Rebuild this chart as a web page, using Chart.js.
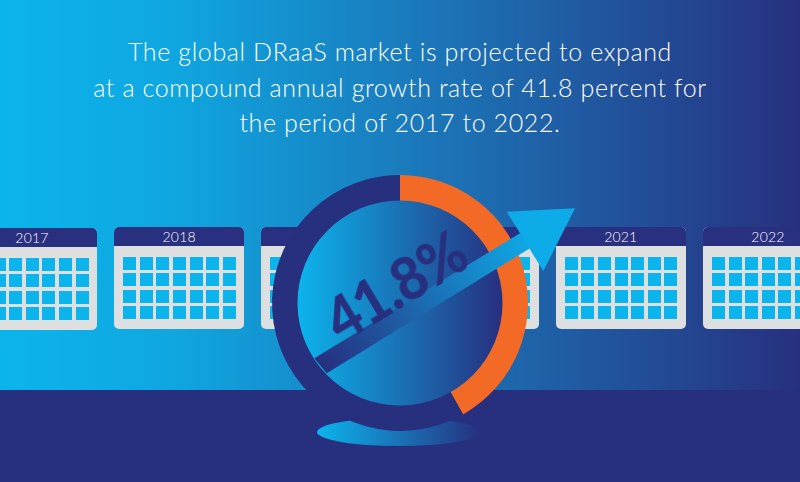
<!DOCTYPE html>
<html>
<head>
<meta charset="utf-8">
<script src="https://cdn.jsdelivr.net/npm/chart.js@4"></script>
<style>
    html, body { margin: 0; padding: 0; }
    #stage {
        position: relative; width: 800px; height: 482px; overflow: hidden;
        background: linear-gradient(90deg, #0cb4ec 0%, #0fa6e0 22%, #1b79bb 52%, #27307f 100%);
        font-family: Lato, sans-serif;
    }
    #band { position: absolute; left: 0; right: 0; top: 390px; bottom: 0; background: #27307f; }
    #title {
        position: absolute; left: 0; width: 800px; top: 34px; text-align: center;
        color: #fff; font-size: 25px; font-weight: 300; line-height: 35.5px; letter-spacing: 0.62px;
    }
    .calendar {
        position: absolute; top: 227px; width: 130px; height: 102px; border-radius: 5px;
        background: #dedfe0; overflow: hidden;
    }
    .calendar .head {
        height: 19px; background: #2a3080; color: #fff; text-align: center;
        font-size: 14px; font-weight: 300; line-height: 19px; letter-spacing: 0.2px;
    }
    .calendar .cell { position: absolute; width: 13px; height: 13px; background: #0cb4ec; }
    #chartWrap { position: absolute; left: 0; top: 0; width: 800px; height: 482px; }
    #rate {
        position: absolute; left: 275px; width: 240px; top: 250px; text-align: center;
        color: #27307f; font-size: 61px; font-weight: 900; line-height: 70px; letter-spacing: -1px;
        transform: rotate(-31deg) scaleX(0.92);
    }
</style>
</head>
<body>
<div id="stage">
    <div id="band"></div>
    <div id="title"></div>
    <div id="calendars"></div>
    <div id="chartWrap"><canvas id="growthChart"></canvas></div>
    <div id="rate"></div>
</div>
<script>
const titleLines = [
    'The global DRaaS market is projected to expand',
    'at a compound annual growth rate of 41.8 percent for',
    'the period of 2017 to 2022.'
];
const years = ['2017', '2018', '2019', '2020', '2021', '2022'];
const shareLabels = ['Growth rate', 'Remainder'];
const shareValues = [41.8, 58.2];

const navy = '#27307f';
const skyBlue = '#0cb4ec';

document.getElementById('title').innerHTML = titleLines.join('<br>');
document.getElementById('rate').textContent = shareValues[0] + '%';

// Row of calendars behind the ring
const calendars = document.getElementById('calendars');
years.forEach((year, i) => {
    const cal = document.createElement('div');
    cal.className = 'calendar';
    cal.style.left = (-33 + i * 147.2) + 'px';
    if (i === 0) cal.style.top = '228px';
    cal.innerHTML = '<div class="head">' + year + '</div>';
    for (let row = 0; row < 4; row++) {
        for (let col = 0; col < 7; col++) {
            const cell = document.createElement('div');
            cell.className = 'cell';
            cell.style.left = (9 + col * 16.6) + 'px';
            cell.style.top = (29.5 + row * 16.5) + 'px';
            cal.appendChild(cell);
        }
    }
    calendars.appendChild(cal);
});

// Shadow ellipse under the ring, disc inside it and the arrow on top
const decorations = {
    id: 'decorations',
    beforeDatasetsDraw(chart) {
        const arc = chart.getDatasetMeta(0).data[0];
        const ctx = chart.ctx;
        const grad = ctx.createLinearGradient(arc.x - 82, 0, arc.x + 82, 0);
        grad.addColorStop(0, skyBlue);
        grad.addColorStop(1, navy);
        ctx.save();
        ctx.fillStyle = grad;
        ctx.beginPath();
        ctx.ellipse(arc.x - 1, arc.y + 129, 82, 14, 0, 0, Math.PI * 2);
        ctx.fill();
        ctx.restore();
    },
    afterDatasetsDraw(chart) {
        const arc = chart.getDatasetMeta(0).data[0];
        const ctx = chart.ctx;
        const x = arc.x, y = arc.y, r = arc.innerRadius;

        ctx.save();
        const disc = ctx.createLinearGradient(x - r, 0, x + r, 0);
        disc.addColorStop(0, skyBlue);
        disc.addColorStop(1, navy);
        ctx.fillStyle = disc;
        ctx.beginPath();
        ctx.arc(x, y, r + 0.5, 0, Math.PI * 2);
        ctx.fill();

        const shaft = ctx.createLinearGradient(x - 80, y + 60, x + 130, y - 65);
        shaft.addColorStop(0, navy);
        shaft.addColorStop(1, '#0fa9e6');
        ctx.fillStyle = shaft;
        ctx.beginPath();
        ctx.moveTo(x - 85.7, y + 55.3);
        ctx.lineTo(x + 120, y - 69.7);
        ctx.lineTo(x + 130, y - 54.7);
        ctx.lineTo(x - 73.3, y + 70.3);
        ctx.closePath();
        ctx.fill();

        ctx.fillStyle = '#0dace9';
        ctx.beginPath();
        ctx.moveTo(x + 106.7, y - 91.3);
        ctx.lineTo(x + 175, y - 94.7);
        ctx.lineTo(x + 143.3, y - 32);
        ctx.closePath();
        ctx.fill();
        ctx.restore();
    }
};

new Chart(document.getElementById('growthChart'), {
    type: 'doughnut',
    data: {
        labels: shareLabels,
        datasets: [{
            data: shareValues,
            backgroundColor: ['#f26a26', navy],
            borderWidth: 0
        }]
    },
    options: {
        responsive: true,
        maintainAspectRatio: false,
        animation: false,
        cutout: '79.7%',
        layout: { padding: { left: 272, right: 272, top: 175, bottom: 51 } },
        plugins: {
            legend: { display: false },
            tooltip: { enabled: false }
        }
    },
    plugins: [decorations]
});
</script>
</body>
</html>
